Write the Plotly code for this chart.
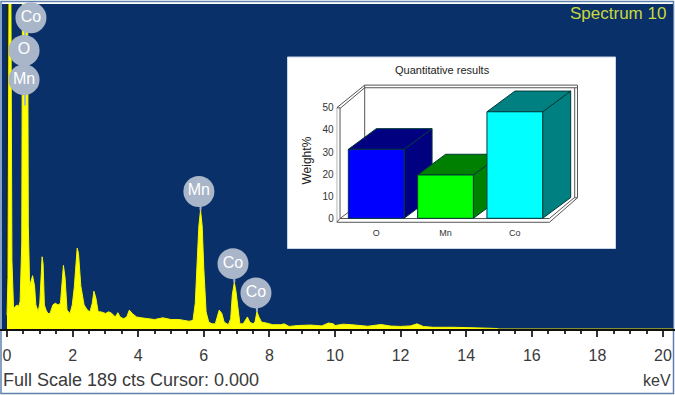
import plotly.graph_objects as go

W, H = 675, 395
# ---- spectrum data (keV, counts)
spec_kev = [0.00,0.03,0.06,0.12,0.15,0.20,0.30,0.35,0.40,0.45,0.47,0.63,0.65,0.69,0.78,0.84,0.88,0.95,1.00,1.04,
            1.07,1.10,1.14,1.19,1.25,1.31,1.40,1.47,1.56,1.63,1.68,1.72,1.77,1.83,1.92,1.99,2.05,2.11,2.14,2.18,
            2.25,2.35,2.45,2.53,2.60,2.65,2.71,2.78,2.85,2.95,3.00,3.10,3.20,3.30,3.38,3.45,3.55,3.65,3.73,3.82,
            3.95,4.10,4.30,4.50,4.75,5.00,5.25,5.55,5.67,5.74,5.80,5.85,5.90,5.95,6.00,6.07,6.15,6.25,6.35,6.42,
            6.47,6.55,6.62,6.75,6.82,6.87,6.93,6.98,7.05,7.10,7.20,7.27,7.33,7.40,7.50,7.56,7.62,7.68,7.76,7.90,
            8.10,8.35,8.45,8.60,8.85,9.25,9.60,9.80,9.95,10.0,10.25,10.5,10.7,11.0,11.4,11.7,12.0,12.3,12.5,12.7,
            13.0,13.3,13.6,14.0,14.3,14.6,14.9,15.0,20.3]
spec_cts = [8,30,189,189,40,12,14,13,16,50,189,189,60,25,31,25,14,10,15,35,
            42,38,14,11,9,9,14,15,14,15,30,37,30,11,9,14,24,43,47,44,
            25,14,11,10,15,22,18,10,10,9.5,9,10,9,7,9.5,7,6,7,11,9,
            7,6.5,6,5.5,6.5,5.5,5.5,4.5,5,15,40,60,69,60,35,10,4,3,3,8,
            11,9,4,2.5,6,20,27,22,10,3,3,5,7,4,3,4,10,7,4,3.5,
            2.5,2.5,3,1.5,2,2.3,1.8,3.5,3,2,2.8,2.5,2,1.6,2.6,1.7,1.5,1.8,3,1.4,
            1,1.2,1,0.8,0.8,0.5,0.3,0,0]
assert len(spec_kev) == len(spec_cts)

# ---- peak labels
label_names = ["Co", "O", "Mn", "Mn", "Co", "Co"]
label_kev = [0.73, 0.52, 0.52, 5.85, 6.89, 7.59]
label_cts = [181, 162, 145, 80, 38, 21]
stem_kev = [0.55, 0.55, None, 5.9, 5.9, None, 6.93, 6.93, None, 7.62, 7.62]
stem_cts = [130, 180, None, 69, 80, None, 27, 38, None, 10, 21]

major_ticks = list(range(0, 21, 2))

# ---- inset bar chart
bar_names = ["O", "Mn", "Co"]
bar_values = [31.2, 19.6, 48.2]
bar_front = ["#0000ff", "#00ff00", "#00ffff"]
bar_dark = ["#000080", "#008000", "#008080"]

# ---- pixel helpers used for layout only
def px(x): return x / W
def py(y): return 1 - y / H

fig = go.Figure()

# main spectrum
fig.add_trace(go.Scatter(x=spec_kev, y=spec_cts, mode="lines", fill="tozeroy",
    fillcolor="#ffff00", line=dict(color="#f6f600", width=1), hoverinfo="skip", xaxis="x", yaxis="y"))
fig.add_trace(go.Scatter(x=stem_kev, y=stem_cts, mode="lines",
    line=dict(color="#a9b5c8", width=2), xaxis="x", yaxis="y"))
fig.add_trace(go.Scatter(x=label_kev, y=label_cts, mode="markers+text", text=label_names,
    textposition="middle center", textfont=dict(color="white", size=16, family="Liberation Sans"),
    marker=dict(size=31, color="#a9b5c8"), cliponaxis=False, xaxis="x", yaxis="y"))

# inset: walls, in units of the inset axes
DX, DY = 0.404, 9.37      # 3-D depth of the bars in axis units
BW = 0.402                # half width of a bar
XL, XR = -0.57, 2.50      # front-left and front-right of the floor plate
TW = 0.048                # wall thickness in x
YB, YF, YT = -1.8, -0.1, 50.0
FR = dict(color="#555555", width=1)

def poly(xs, ys, fill=None, line=FR):
    fig.add_trace(go.Scatter(x=xs, y=ys, mode="lines", line=line,
        fill="toself" if fill else None, fillcolor=fill, hoverinfo="skip", xaxis="x2", yaxis="y2"))

BX = XL + DX
TOP = YT + DY + 0.9
poly([XL, XR, XR + DX, XR + DX, XR + DX - TW, XR - 0.001, XL + TW, XL + TW, XL],
     [YB, YB, YF + DY, YF + DY, YF + DY, YF, YF, YT, YT])
poly([XL, XL + TW], [YB, YF], line=FR)
poly([XL, XL, BX + 0.0, BX + 3.07], [YB, YT, TOP, TOP])
poly([XL + TW, BX, BX + 3.07], [YT - 0.3, TOP - 1.2, TOP - 1.2])
poly([BX, BX], [TOP, YF + DY - 2])
poly([BX + 3.07, BX + 3.07], [TOP, YF + DY])
poly([BX + 3.03, BX + 3.03], [TOP - 1.2, YF + DY])
poly([XL + TW, XL + TW + 0.12], [YF, YF + 2.8])

# inset: bars, every face derived from the value
for i, (v, c, d) in enumerate(zip(bar_values, bar_front, bar_dark)):
    l, r = i - BW, i + BW
    edge = dict(color="#003838", width=1)
    poly([r, r + DX, r + DX, r, r], [0, DY, v + DY, v, 0], fill=d, line=edge)
    poly([l, l + DX, r + DX, r, l], [v, v + DY, v + DY, v, v], fill=d, line=edge)
    poly([l, r, r, l, l], [0, 0, v, v, 0], fill=c, line=edge)

yr2 = (-2.5, 62.0)
y_unit = 2.21
d2_bot = 218.3 - yr2[0] * y_unit
d2_top = 218.3 - yr2[1] * y_unit

TXT = "#3a3a3a"
annots = [
    dict(text="Spectrum 10", x=px(667), y=py(14), xanchor="right", yanchor="middle",
         font=dict(size=17, color="#c9d83c", family="Liberation Sans")),
    dict(text="Full Scale 189 cts Cursor: 0.000", x=px(2), y=py(380), xanchor="left", yanchor="middle",
         font=dict(size=18, color=TXT, family="Liberation Sans")),
    dict(text="keV", x=px(672), y=py(380), xanchor="right", yanchor="middle",
         font=dict(size=16, color=TXT, family="Liberation Sans")),
    dict(text="Quantitative results", x=px(442), y=py(70), xanchor="center", yanchor="middle",
         font=dict(size=11, color="#222222", family="Liberation Sans")),
    dict(text="Weight%", x=px(306.5), y=py(161), xanchor="center", yanchor="middle", textangle=-90,
         font=dict(size=12, color="#222222", family="Liberation Sans")),
]
for a in annots:
    a.update(xref="paper", yref="paper", showarrow=False, borderpad=0)

shapes = [
    dict(type="rect", xref="paper", yref="paper", x0=px(1), x1=px(673.5), y0=py(393.5), y1=py(1.5),
         fillcolor="white", line=dict(color="#5f82ad", width=1.5), layer="below"),
    dict(type="rect", xref="paper", yref="paper", x0=px(2), x1=px(673), y0=py(331), y1=py(4),
         fillcolor="#0a3069", line=dict(width=0), layer="below"),
    dict(type="rect", xref="paper", yref="paper", x0=px(287.5), x1=px(615.5), y0=py(248.5), y1=py(57),
         fillcolor="white", line=dict(color="#c9d6e6", width=1), layer="below"),
]

fig.update_layout(
    width=W, height=H, margin=dict(l=0, r=0, t=0, b=0), autosize=False,
    paper_bgcolor="white", plot_bgcolor="rgba(0,0,0,0)", showlegend=False,
    font=dict(family="Liberation Sans"), shapes=shapes, annotations=annots,
    xaxis=dict(domain=[px(0), px(675)], range=[-7 / 32.8, 668 / 32.8], tickvals=major_ticks,
        ticks="outside", ticklen=6, tickwidth=2, tickcolor="#333333", showgrid=False, zeroline=True,
        zerolinecolor="#1c2a20", zerolinewidth=2, showline=True, linecolor="#111111", linewidth=2,
        anchor="y", ticklabelstandoff=5, tickfont=dict(size=16, color=TXT),
        minor=dict(dtick=0.5, ticks="outside", ticklen=3, tickwidth=2, tickcolor="#333333", showgrid=False)),
    yaxis=dict(domain=[py(329), py(4)], range=[0, 189], visible=False, showgrid=False, zeroline=False),
    xaxis2=dict(domain=[px(336.7), px(581.7)], range=[-0.57, 2.965], tickvals=[0, 1, 2], ticktext=bar_names,
        ticks="", showgrid=False, zeroline=False, showline=False, anchor="y2", ticklabelstandoff=2,
        tickfont=dict(size=9, color="#333333")),
    yaxis2=dict(domain=[py(d2_bot), py(d2_top)], range=list(yr2), tickvals=[0, 10, 20, 30, 40, 50],
        ticks="", showgrid=False, zeroline=False, showline=False, anchor="x2", ticklabelstandoff=2,
        tickfont=dict(size=10, color="#333333")),
)
fig.write_html("out.html", config=dict(displayModeBar=False),
               post_script="document.body.style.margin='0';document.body.style.overflow='hidden';")
